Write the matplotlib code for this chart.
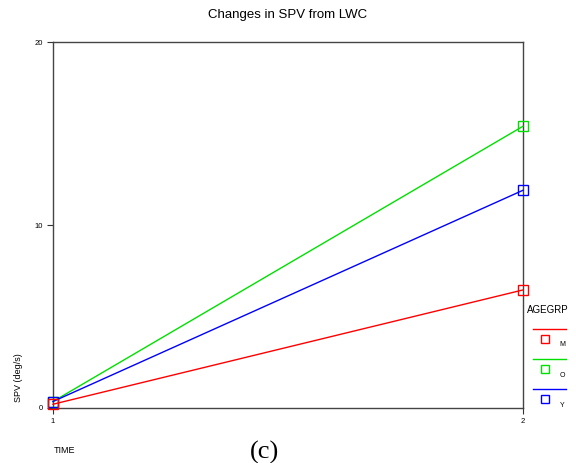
import matplotlib
matplotlib.use("Agg")
import matplotlib.pyplot as plt
from matplotlib.lines import Line2D

plt.rcParams['font.family'] = ['Liberation Sans', 'DejaVu Sans']

# SPV at each time point for the three age groups
time = [1, 2]
groups = ['M', 'O', 'Y']
spv_m = [0.2, 6.45]
spv_o = [0.35, 15.4]
spv_y = [0.35, 11.9]
colors = {'M': '#ff0000', 'O': '#00e000', 'Y': '#0000ff'}


def main():
    fig = plt.figure(figsize=(5.76, 4.63), dpi=100)
    ax = fig.add_axes([0.092, 0.119, 0.816, 0.79])

    # draw green first, then blue, red on top
    for name, vals in [('O', spv_o), ('Y', spv_y), ('M', spv_m)]:
        ax.plot(time, vals, color=colors[name], lw=1.0, marker='s',
                markersize=6.5, markerfacecolor='none',
                markeredgecolor=colors[name], markeredgewidth=1.0,
                clip_on=False, zorder=3)

    ax.set_xlim(1, 2)
    ax.set_ylim(0, 20)
    ax.set_xticks([1, 2])
    ax.set_yticks([0, 10, 20])
    ax.tick_params(labelsize=5.5, length=4, width=0.8, pad=3, color='#333333')
    for s in ax.spines.values():
        s.set_color('#444444')
        s.set_linewidth(1.0)

    fig.text(0.5, 0.968, 'Changes in SPV from LWC', ha='center', va='center',
             fontsize=9.5)
    fig.text(0.032, 0.184, 'SPV (deg/s)', rotation=90, ha='center',
             va='center', fontsize=6.5)
    fig.text(0.093, 0.028, 'TIME', ha='left', va='center', fontsize=6.5)
    fig.text(0.46, 0.022, '(c)', ha='center', va='center', fontsize=19,
             family='Liberation Serif')

    # legend block on the right
    fig.text(0.915, 0.33, 'AGEGRP', ha='left', va='center', fontsize=7)
    for i, name in enumerate(groups):
        y0 = 0.29 - i * 0.065
        fig.add_artist(Line2D([0.925, 0.982], [y0, y0], color=colors[name],
                              lw=1.0, transform=fig.transFigure))
        fig.add_artist(Line2D([0.946], [y0 - 0.022], marker='s',
                              markersize=6, markerfacecolor='none',
                              markeredgecolor=colors[name], lw=0,
                              transform=fig.transFigure))
        fig.text(0.976, y0 - 0.035, name, ha='center', va='center',
                 fontsize=5)

    fig.savefig('out.png', dpi=100)


if __name__ == "__main__":
    main()
